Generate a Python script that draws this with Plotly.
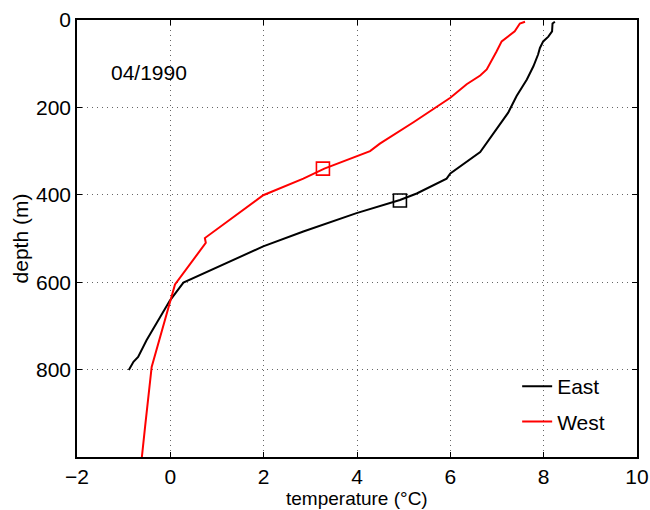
import plotly.graph_objects as go

# East profile (temperature °C, depth m)
east_temp = [8.24, 8.19, 8.18, 8.10, 7.99, 7.92, 7.88, 7.78, 7.64, 7.42, 7.24, 6.99, 6.64,
             6.00, 5.92, 5.28, 4.92, 3.99, 2.85, 1.99, 0.28, -0.01, -0.51, -0.69, -0.79, -0.89]
east_depth = [4, 8, 26, 38, 49, 64, 79, 106, 136, 174, 212, 249, 302,
              351, 363, 397, 412, 442, 484, 518, 601, 642, 733, 771, 782, 801]

# West profile
west_temp = [7.60, 7.49, 7.38, 7.24, 7.10, 6.99, 6.78, 6.64, 6.35, 6.00, 5.64, 5.21, 4.49,
             4.28, 3.30, 2.85, 1.99, 1.71, 0.74, 0.76, 0.10, -0.04, -0.40, -0.54, -0.61]
west_depth = [4, 8, 26, 38, 49, 72, 113, 127, 147, 178, 204, 234, 283,
              300, 340, 363, 401, 423, 499, 510, 605, 658, 794, 930, 1000]

# Marker points
east_mark_temp = [4.92]
east_mark_depth = [413]
west_mark_temp = [3.27]
west_mark_depth = [340]

x_ticks = [-2, 0, 2, 4, 6, 8, 10]
y_ticks = [0, 200, 400, 600, 800]

FONT = "Liberation Sans, Arial, Helvetica, sans-serif"
FS = 21

fig = go.Figure()
fig.add_trace(go.Scatter(x=east_temp, y=east_depth, mode="lines", name="East",
                         line=dict(color="black", width=2), legendgroup="e"))
fig.add_trace(go.Scatter(x=west_temp, y=west_depth, mode="lines", name="West",
                         line=dict(color="#ff0000", width=2), legendgroup="w"))
fig.add_trace(go.Scatter(x=east_mark_temp, y=east_mark_depth, mode="markers", showlegend=False,
                         marker=dict(symbol="square-open", size=13, color="black",
                                     line=dict(width=1.6, color="black"))))
fig.add_trace(go.Scatter(x=west_mark_temp, y=west_mark_depth, mode="markers", showlegend=False,
                         marker=dict(symbol="square-open", size=13, color="#ff0000",
                                     line=dict(width=1.6, color="#ff0000"))))

axis_common = dict(showline=True, mirror="ticks", linecolor="black", linewidth=1.5,
                   ticks="inside", ticklen=5, tickcolor="black",
                   showgrid=True, gridcolor="#666666", griddash="1px,4px", gridwidth=1,
                   zeroline=False, automargin=False,
                   tickfont=dict(size=FS, color="black", family=FONT))

fig.update_xaxes(range=[-2, 10], tickvals=x_ticks,
                 ticktext=["\u22122" if v == -2 else str(v) for v in x_ticks],
                 **axis_common)
fig.update_yaxes(range=[1000, 0], tickvals=y_ticks,
                 title=dict(text="depth (m)", font=dict(size=FS, color="black", family=FONT),
                            standoff=2),
                 **axis_common)

# x-axis title placed just below the tick labels
fig.add_annotation(text="temperature (\u00b0C)", x=0.5, y=-0.1205, xref="paper", yref="paper",
                   xanchor="center", yanchor="bottom", showarrow=False, borderpad=0,
                   font=dict(size=19, color="black", family=FONT))

fig.add_annotation(text="04/1990", x=0.058, y=0.881, xref="paper", yref="paper",
                   xanchor="left", yanchor="middle", showarrow=False,
                   font=dict(size=FS, color="black", family=FONT))

fig.update_layout(
    width=650, height=510,
    margin=dict(l=77, r=13, t=20, b=53),
    plot_bgcolor="white", paper_bgcolor="white",
    font=dict(family=FONT, size=FS, color="black"),
    legend=dict(x=0.786, y=0.121, xanchor="left", yanchor="middle",
                bgcolor="rgba(0,0,0,0)", borderwidth=0,
                tracegroupgap=5, traceorder="grouped",
                font=dict(size=FS, family=FONT, color="black")),
)

fig.write_html("out.html")
